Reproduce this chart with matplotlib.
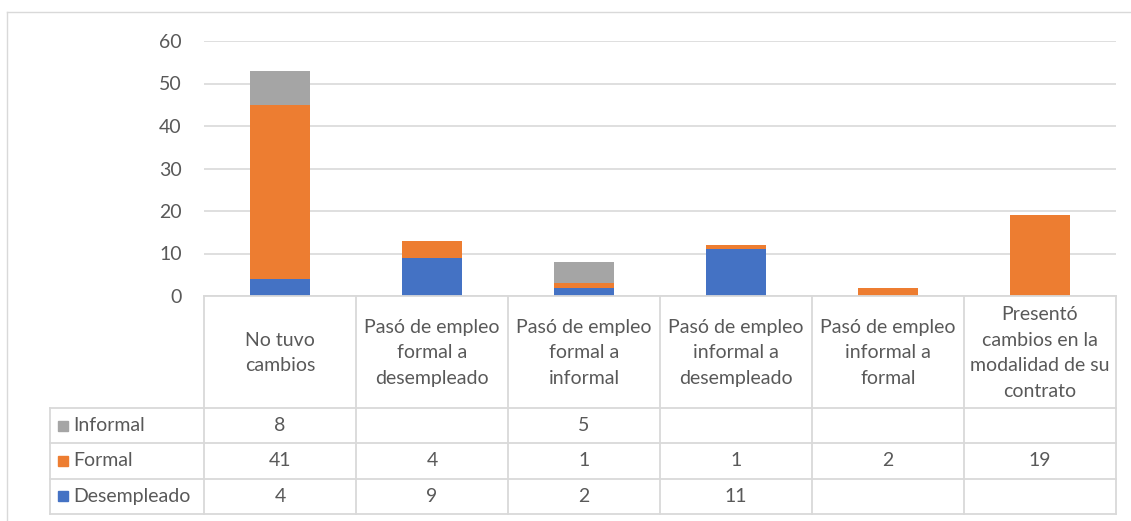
import matplotlib.pyplot as plt
from matplotlib.patches import Rectangle
import numpy as np

plt.rcParams['font.family'] = ['Lato', 'DejaVu Sans']

categories = [
    "No tuvo\ncambios",
    "Pasó de empleo\nformal a\ndesempleado",
    "Pasó de empleo\nformal a\ninformal",
    "Pasó de empleo\ninformal a\ndesempleado",
    "Pasó de empleo\ninformal a\nformal",
    "Presentó\ncambios en la\nmodalidad de su\ncontrato",
]
desempleado = [4, 9, 2, 11, 0, 0]
formal = [41, 4, 1, 1, 2, 19]
informal = [8, 0, 5, 0, 0, 0]
yticks = [0, 10, 20, 30, 40, 50, 60]

# bottom to top stacking, table rows listed top to bottom
series = [("Desempleado", desempleado, "#4472C4"),
          ("Formal", formal, "#ED7D31"),
          ("Informal", informal, "#A5A5A5")]

W, H = 1131, 521
text_color = "#595959"
line_color = "#D9D9D9"
fs = 14

fig = plt.figure(figsize=(W / 100, H / 100), dpi=100)
ax = fig.add_axes([204 / W, 1 - 296 / H, 912 / W, 255 / H])

x = np.arange(len(categories))
bottom = np.zeros(len(categories))
for name, vals, color in series:
    ax.bar(x, vals, width=0.395, bottom=bottom, color=color, zorder=3)
    bottom += np.array(vals)

ax.set_xlim(-0.5, len(categories) - 0.5)
ax.set_ylim(0, 60)
ax.set_yticks(yticks)
ax.set_xticks([])
ax.yaxis.grid(True, color=line_color, lw=1.2, zorder=0)
for s in ax.spines.values():
    s.set_visible(False)
ax.tick_params(axis="y", length=0, pad=16, labelsize=fs, labelcolor=text_color)

# table drawn in pixel coordinates on an overlay
tab = fig.add_axes([0, 0, 1, 1], facecolor="none")
tab.set_xlim(0, W)
tab.set_ylim(H, 0)
tab.axis("off")

# chart border
tab.plot([7, W], [12, 12], color=line_color, lw=1)
tab.plot([7, 7], [12, H], color=line_color, lw=1)

x0 = ax.transData.transform((-0.5, 0))[0]
x1 = ax.transData.transform((len(categories) - 0.5, 0))[0]
cw = (x1 - x0) / len(categories)
edges = [x0 + cw * i for i in range(len(categories) + 1)]
left = 50
y_top, y_head = 296, 408
row_h = 35.3
rows_y = [y_head + row_h * i for i in range(4)]

lw = 1.3
tab.plot([x0, x1], [y_top, y_top], color=line_color, lw=lw)
for yy in rows_y:
    tab.plot([left, x1], [yy, yy], color=line_color, lw=lw)
tab.plot([left, left], [y_head, rows_y[-1]], color=line_color, lw=lw)
for ex in edges:
    tab.plot([ex, ex], [y_top, rows_y[-1]], color=line_color, lw=lw)

for i, cat in enumerate(categories):
    cx = (edges[i] + edges[i + 1]) / 2
    tab.text(cx, (y_top + y_head) / 2 + 1, cat, ha="center", va="center",
             fontsize=fs, color=text_color, linespacing=1.62)

for r, (name, vals, color) in enumerate(series[::-1]):
    cy = rows_y[r] + row_h / 2
    tab.add_patch(Rectangle((58, cy - 5), 10, 10, color=color))
    tab.text(73, cy, name, ha="left", va="center", fontsize=fs, color=text_color)
    for i, v in enumerate(vals):
        if v:
            cx = (edges[i] + edges[i + 1]) / 2
            tab.text(cx, cy, str(v), ha="center", va="center",
                     fontsize=fs, color=text_color)

fig.savefig("out.png", dpi=100)
